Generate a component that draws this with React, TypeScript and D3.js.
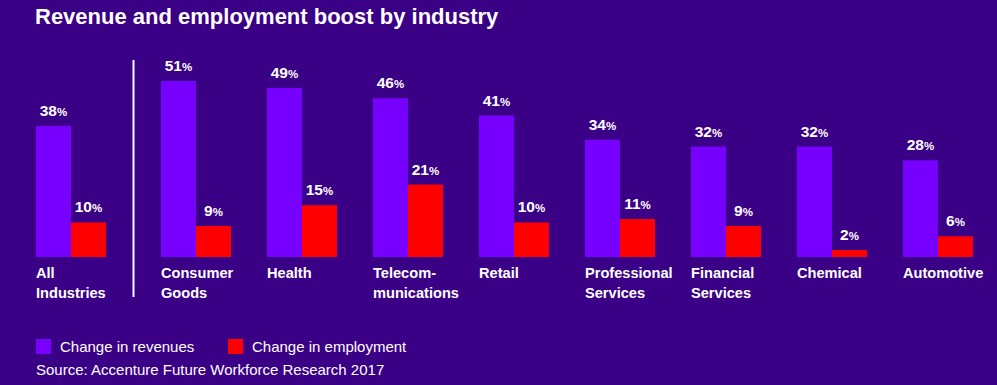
import React, { useRef, useEffect } from 'react';
import * as d3 from 'd3';

const categories = ['All Industries', 'Consumer Goods', 'Health', 'Telecommunications', 'Retail', 'Professional Services', 'Financial Services', 'Chemical', 'Automotive'];
const labelLines = [['All', 'Industries'], ['Consumer', 'Goods'], ['Health'], ['Telecom-', 'munications'], ['Retail'], ['Professional', 'Services'], ['Financial', 'Services'], ['Chemical'], ['Automotive']];
const revenues = [38, 51, 49, 46, 41, 34, 32, 32, 28];
const employment = [10, 9, 15, 21, 10, 11, 9, 2, 6];
const seriesNames = ['Change in revenues', 'Change in employment'];

const BG = '#3a0086';
const PURPLE = '#7800ff';
const RED = '#ff0000';
const FONT = '"Liberation Sans", Arial, sans-serif';

const App: React.FC = () => {
    const ref = useRef<SVGSVGElement>(null);

    useEffect(() => {
        if (!ref.current) return;
        const svg = d3.select(ref.current);
        svg.selectAll('*').remove();

        const width = 997, height = 385;
        const baseline = 257;
        const barW = 35;

        svg.append('rect').attr('width', width).attr('height', height).attr('fill', BG);

        svg.append('text')
            .attr('x', 35).attr('y', 24)
            .attr('fill', 'white').attr('font-family', FONT)
            .attr('font-size', 22).attr('font-weight', 700)
            .text('Revenue and employment boost by industry');

        // first group sits left of the divider, the rest on an even step
        const xGroups = d3.scaleLinear().domain([1, 8]).range([161, 903]);
        const xPos = (i: number) => (i === 0 ? 36 : xGroups(i));
        const y = d3.scaleLinear().domain([0, 51]).range([baseline, baseline - 176]);

        svg.append('line')
            .attr('x1', 133.5).attr('x2', 133.5).attr('y1', 60).attr('y2', 297)
            .attr('stroke', 'white').attr('stroke-width', 2);

        const groups = svg.selectAll('.grp')
            .data(categories)
            .enter()
            .append('g')
            .attr('class', 'grp')
            .attr('transform', (d, i) => `translate(${xPos(i)},0)`);

        const addBar = (vals: number[], dx: number, color: string) => {
            groups.append('rect')
                .attr('x', dx)
                .attr('y', (d, i) => y(vals[i]))
                .attr('width', barW)
                .attr('height', (d, i) => baseline - y(vals[i]))
                .attr('fill', color);

            const t = groups.append('text')
                .attr('x', dx + barW / 2)
                .attr('y', (d, i) => y(vals[i]) - 10)
                .attr('text-anchor', 'middle')
                .attr('fill', 'white').attr('font-family', FONT);
            t.append('tspan').attr('font-size', 15.5).attr('font-weight', 700).text((d, i) => vals[i]);
            t.append('tspan').attr('font-size', 11.5).attr('font-weight', 700).text('%');
        };
        addBar(revenues, 0, PURPLE);
        addBar(employment, barW, RED);

        groups.each(function (d, i) {
            const lines = labelLines[i];
            const t = d3.select(this).append('text')
                .attr('fill', 'white').attr('font-family', FONT)
                .attr('font-size', 14.6).attr('font-weight', 700);
            lines.forEach((l, k) => {
                t.append('tspan').attr('x', 0).attr('y', 278 + k * 20).text(l);
            });
        });

        // legend
        const legend = svg.append('g');
        [PURPLE, RED].forEach((c, i) => {
            const lx = i === 0 ? 36 : 228;
            legend.append('rect').attr('x', lx).attr('y', 339).attr('width', 15).attr('height', 15).attr('fill', c);
            legend.append('text').attr('x', lx + 24).attr('y', 352)
                .attr('fill', 'white').attr('font-family', FONT).attr('font-size', 15)
                .text(seriesNames[i]);
        });

        svg.append('text')
            .attr('x', 36).attr('y', 375)
            .attr('fill', 'white').attr('font-family', FONT).attr('font-size', 15)
            .text('Source: Accenture Future Workforce Research 2017');
    }, []);

    return (
        <>
            <style>{'body{margin:0;}'}</style>
            <svg ref={ref} width={997} height={385} style={{ display: 'block' }} />
        </>
    );
};

export default App;
